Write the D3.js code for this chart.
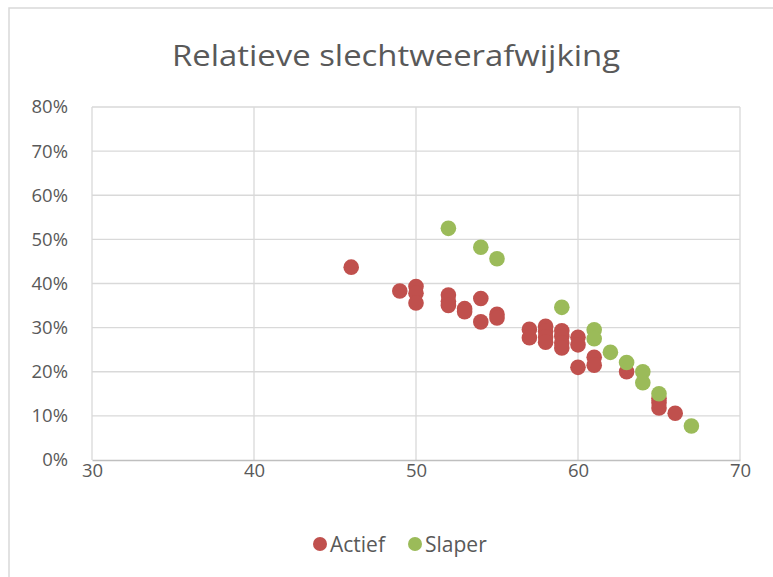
<!DOCTYPE html>
<html>
<head>
<meta charset="utf-8">
<script src="https://cdn.jsdelivr.net/npm/d3@7"></script>
<style>
  body { margin: 0; background: #fff; }
  text { font-family: "Open Sans", sans-serif; fill: #595959; }
</style>
</head>
<body>
<div id="chart"></div>
<script>
// data: age (x) and share (y, %)
const actiefX = [46, 49, 50, 50, 50, 52, 52, 52, 53, 53, 54, 54, 55, 55, 57, 57,
                 58, 58, 58, 58, 59, 59, 59, 59, 60, 60, 60, 61, 61, 63, 65, 65, 65, 66];
const actiefY = [43.7, 38.3, 39.3, 37.8, 35.6, 37.4, 36.0, 35.0, 34.3, 33.6, 36.6, 31.3, 33.0, 32.2, 29.6, 27.7,
                 30.3, 29.2, 27.9, 26.7, 29.3, 28.0, 26.5, 25.4, 27.8, 26.1, 21.0, 23.3, 21.5, 20.0, 14.0, 13.0, 11.8, 10.6];

const slaperX = [52, 54, 55, 59, 61, 61, 62, 63, 64, 64, 65, 67];
const slaperY = [52.5, 48.2, 45.6, 34.6, 29.5, 27.5, 24.4, 22.1, 20.0, 17.5, 15.0, 7.7];

const seriesNames = ["Actief", "Slaper"];
const seriesColors = ["#C0504D", "#9BBB59"];
const xTicks = [30, 40, 50, 60, 70];
const yTicks = [0, 10, 20, 30, 40, 50, 60, 70, 80];
const title = "Relatieve slechtweerafwijking";

// layout
const W = 773, H = 577;
const margin = {top: 107, left: 92, right: 33, bottom: 117};
const width = W - margin.left - margin.right;
const height = H - margin.top - margin.bottom;

const svg = d3.select("#chart").append("svg")
    .attr("width", W)
    .attr("height", H);

// cropped text from above the chart (only its descender shows)
svg.append("text")
    .attr("x", 33).attr("y", -4)
    .attr("font-size", 18)
    .style("fill", "#000")
    .text("g");

// chart frame
svg.append("rect")
    .attr("x", 9).attr("y", 8)
    .attr("width", W + 20).attr("height", H + 20)
    .attr("fill", "none")
    .attr("stroke", "#d9d9d9")
    .attr("stroke-width", 1.5);

svg.append("text")
    .attr("x", 396).attr("y", 66)
    .attr("text-anchor", "middle")
    .attr("font-size", 29)
    .attr("textLength", 448)
    .attr("lengthAdjust", "spacingAndGlyphs")
    .text(title);

const g = svg.append("g")
    .attr("transform", `translate(${margin.left},${margin.top})`);

const xScale = d3.scaleLinear().domain([30, 70]).range([0, width]);
const yScale = d3.scaleLinear().domain([0, 80]).range([height, 0]);

// gridlines
g.append("g").selectAll("line")
    .data(yTicks.filter(d => d > 0))
    .join("line")
    .attr("x1", 0).attr("x2", width)
    .attr("y1", d => yScale(d)).attr("y2", d => yScale(d))
    .attr("stroke", "#d9d9d9")
    .attr("stroke-width", 1.3);

g.append("g").selectAll("line")
    .data(xTicks)
    .join("line")
    .attr("x1", d => xScale(d)).attr("x2", d => xScale(d))
    .attr("y1", 0).attr("y2", height)
    .attr("stroke", "#d9d9d9")
    .attr("stroke-width", 1.3);

// axes
const xAxis = d3.axisBottom(xScale).tickValues(xTicks).tickSize(0).tickPadding(4);
const yAxis = d3.axisLeft(yScale).tickValues(yTicks).tickSize(0).tickPadding(24)
    .tickFormat(d => d + "%");

const xAxisG = g.append("g")
    .attr("transform", `translate(0,${height})`)
    .call(xAxis);
xAxisG.select(".domain").attr("stroke", "#bfbfbf").attr("stroke-width", 1.3);
xAxisG.selectAll("text").attr("font-size", 18.5).style("font-family", null);

const yAxisG = g.append("g").call(yAxis);
yAxisG.select(".domain").remove();
yAxisG.selectAll("text").attr("font-size", 18.5).style("font-family", null);

// points
const series = [
    actiefX.map((x, i) => ({x, y: actiefY[i]})),
    slaperX.map((x, i) => ({x, y: slaperY[i]}))
];

series.forEach((pts, k) => {
    g.append("g").selectAll("circle")
        .data(pts)
        .join("circle")
        .attr("cx", d => xScale(d.x))
        .attr("cy", d => yScale(d.y))
        .attr("r", 7.8)
        .attr("fill", seriesColors[k]);
});

// legend
const legend = svg.append("g").attr("transform", "translate(320,544)");
const legendX = [0, 95];
seriesNames.forEach((name, k) => {
    legend.append("circle")
        .attr("cx", legendX[k]).attr("cy", 0)
        .attr("r", 7)
        .attr("fill", seriesColors[k]);
    legend.append("text")
        .attr("x", legendX[k] + 10).attr("y", 7.5)
        .attr("font-size", 21)
        .text(name);
});
</script>
</body>
</html>
